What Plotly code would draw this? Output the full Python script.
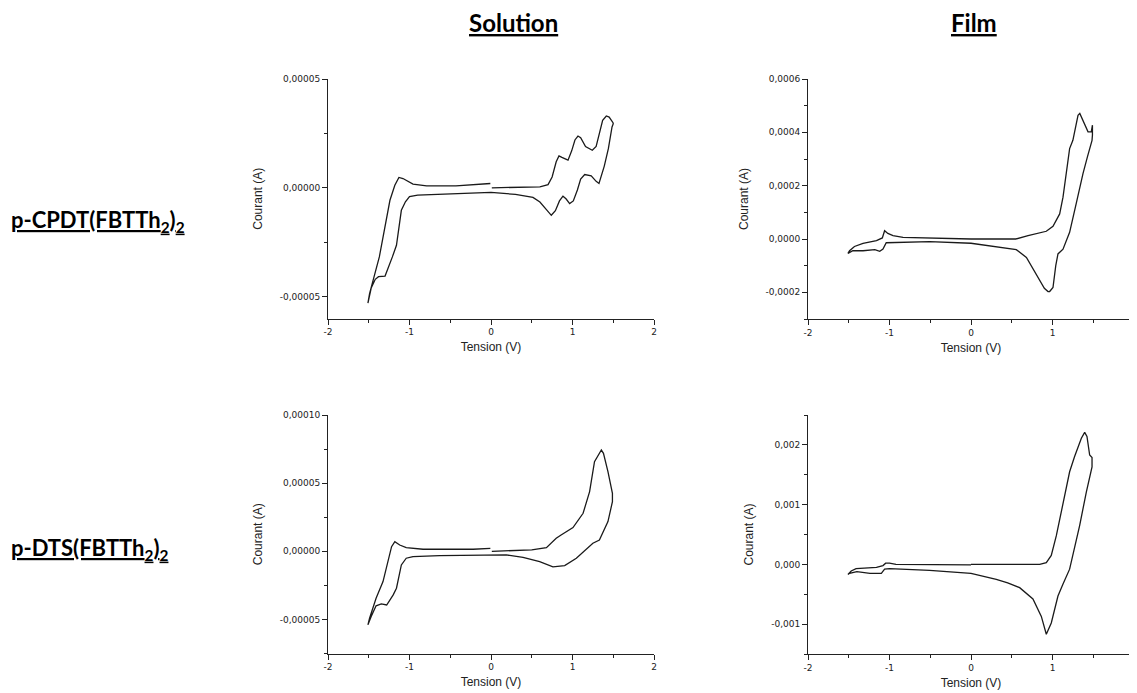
import plotly.graph_objects as go

# ---------------- data ----------------
# Solution, p-CPDT(FBTTh2)2   -- current in units of 1e-5 A
v_sol_cpdt = [0.01, 0.3, 0.6, 0.7, 0.75, 0.8, 0.834, 0.87, 0.945, 0.99, 1.03, 1.067, 1.1, 1.16, 1.243, 1.29, 1.33, 1.37, 1.415, 1.45, 1.497,
              1.5, 1.485, 1.44, 1.39, 1.325, 1.29, 1.23, 1.15, 1.1, 1.06, 1.01, 0.965, 0.92, 0.883, 0.84, 0.79, 0.74, 0.68, 0.6, 0.515, 0.3, 0.0,
              -0.5, -0.9, -1.0, -1.05, -1.1, -1.16, -1.21, -1.25, -1.30, -1.38, -1.42, -1.47, -1.51,
              -1.49, -1.37, -1.24, -1.18, -1.13, -1.08, -0.957, -0.79, -0.43, -0.008]
i_sol_cpdt = [0.0, 0.02, 0.05, 0.15, 0.5, 1.2, 1.47, 1.4, 1.27, 1.7, 2.2, 2.38, 2.3, 1.9, 1.73, 1.9, 2.5, 3.1, 3.30, 3.25, 2.99,
              2.95, 2.8, 1.8, 1.0, 0.2, 0.3, 0.55, 0.61, 0.4, -0.1, -0.6, -0.72, -0.5, -0.38, -0.6, -1.05, -1.26, -1.0, -0.65, -0.44, -0.3, -0.21,
              -0.26, -0.33, -0.4, -0.64, -1.03, -2.64, -3.17, -3.6, -4.05, -4.08, -4.2, -4.6, -5.29,
              -4.86, -3.17, -0.57, 0.12, 0.48, 0.43, 0.17, 0.09, 0.09, 0.2]

# Film, p-CPDT(FBTTh2)2   -- current in units of 1e-4 A
v_film_cpdt = [0.0, 0.3, 0.55, 0.7, 0.924, 1.006, 1.088, 1.129, 1.17, 1.21, 1.25, 1.313, 1.335, 1.36, 1.395, 1.436, 1.476, 1.49,
               1.49, 1.485, 1.43, 1.374, 1.29, 1.25, 1.21, 1.129, 1.067, 1.04, 1.006, 0.965, 0.945, 0.90, 0.80, 0.68, 0.556, 0.31, 0.0,
               -0.507, -1.0, -1.04, -1.08, -1.12, -1.18, -1.325, -1.45, -1.51,
               -1.49, -1.43, -1.325, -1.16, -1.088, -1.06, -1.02, -0.957, -0.834, -0.507, 0.0]
i_film_cpdt = [0.0, 0.0, 0.0, 0.13, 0.29, 0.48, 0.94, 1.57, 2.45, 3.39, 3.70, 4.64, 4.71, 4.55, 4.27, 4.02, 4.02, 4.27,
               3.9, 3.70, 3.1, 2.45, 1.32, 0.75, 0.25, -0.38, -0.56, -1.0, -1.82, -1.97, -1.97, -1.85, -1.32, -0.69, -0.40, -0.29, -0.16,
               -0.10, -0.13, -0.14, -0.38, -0.46, -0.40, -0.44, -0.44, -0.54,
               -0.44, -0.28, -0.16, -0.06, 0.04, 0.31, 0.21, 0.13, 0.06, 0.04, 0.0]

# Solution, p-DTS(FBTTh2)2   -- current in units of 1e-5 A
v_sol_dts = [0.01, 0.3, 0.5, 0.68, 0.80, 0.86, 1.006, 1.13, 1.21, 1.27, 1.354, 1.38, 1.435, 1.49,
             1.49, 1.435, 1.33, 1.25, 1.13, 1.047, 0.904, 0.76, 0.597, 0.393, 0.188, 0.0, -0.63, -0.957, -1.04, -1.1, -1.16, -1.2, -1.28, -1.346, -1.41, -1.47, -1.51,
             -1.49, -1.41, -1.325, -1.22, -1.18, -1.12, -1.04, -0.834, -0.22, -0.008]
i_sol_dts = [0.0, 0.05, 0.1, 0.27, 0.95, 1.2, 1.74, 2.79, 4.38, 6.58, 7.43, 7.19, 5.84, 4.25,
             3.64, 2.18, 0.83, 0.59, -0.02, -0.51, -1.05, -1.15, -0.76, -0.44, -0.27, -0.27, -0.32, -0.39, -0.51, -1.0, -2.71, -3.2, -3.94, -3.86, -4.0, -4.79, -5.4,
             -4.91, -3.45, -2.22, 0.34, 0.71, 0.46, 0.27, 0.15, 0.15, 0.22]

# Film, p-DTS(FBTTh2)2   -- current in units of 1e-3 A
v_film_dts = [0.0, 0.5, 0.843, 0.924, 0.985, 1.047, 1.129, 1.21, 1.27, 1.354, 1.395, 1.423, 1.456, 1.485,
              1.485, 1.415, 1.333, 1.21, 1.129, 1.067, 0.985, 0.924, 0.863, 0.76, 0.597, 0.45, 0.31, 0.0, -0.507, -1.0, -1.06, -1.1, -1.24, -1.4, -1.49, -1.51,
              -1.47, -1.41, -1.16, -1.08, -1.047, -1.0, -0.92, 0.0]
i_film_dts = [0.0, 0.0, 0.0, 0.03, 0.15, 0.48, 1.04, 1.55, 1.80, 2.11, 2.21, 2.14, 1.83, 1.79,
              1.63, 1.21, 0.65, -0.08, -0.33, -0.53, -0.98, -1.17, -0.87, -0.58, -0.39, -0.31, -0.25, -0.15, -0.1, -0.07, -0.08, -0.15, -0.15, -0.12, -0.15, -0.17,
              -0.11, -0.07, -0.05, -0.02, 0.02, 0.02, 0.0, -0.01]

unit_sol = 1e-5
unit_film_cpdt = 1e-4
unit_film_dts = 1e-3

column_titles = ["Solution", "Film"]
row_labels = ["p-CPDT(FBTTh<sub>2</sub>)<sub>2</sub>", "p-DTS(FBTTh<sub>2</sub>)<sub>2</sub>"]

x_tickvals = [-2, -1, 0, 1, 2]
x_ticktext = ["-2", "-1", "0", "1", "2"]

y_tl_vals = [-5e-5, 0.0, 5e-5]
y_tl_text = ["-0,00005", "0,00000", "0,00005"]
y_tr_vals = [-2e-4, 0.0, 2e-4, 4e-4, 6e-4]
y_tr_text = ["-0,0002", "0,0000", "0,0002", "0,0004", "0,0006"]
y_bl_vals = [-5e-5, 0.0, 5e-5, 1e-4]
y_bl_text = ["-0,00005", "0,00000", "0,00005", "0,00010"]
y_br_vals = [-1e-3, 0.0, 1e-3, 2e-3]
y_br_text = ["-0,001", "0,000", "0,001", "0,002"]

# ---------------- figure ----------------
# The page body has an 8px default margin, so the figure is drawn 8px in from
# the window's top-left corner; size it so it ends exactly at the window edge.
OFF = 8
WIN_W, WIN_H = 1137, 693
W, H = WIN_W - OFF, WIN_H - OFF
fig = go.Figure()

panels = [
    ("x", "y", v_sol_cpdt, [v * unit_sol for v in i_sol_cpdt]),
    ("x2", "y2", v_film_cpdt, [v * unit_film_cpdt for v in i_film_cpdt]),
    ("x3", "y3", v_sol_dts, [v * unit_sol for v in i_sol_dts]),
    ("x4", "y4", v_film_dts, [v * unit_film_dts for v in i_film_dts]),
]
for xa, ya, xs, ys in panels:
    fig.add_trace(go.Scatter(x=xs, y=ys, xaxis=xa, yaxis=ya, mode="lines",
                             line=dict(color="#1a1a1a", width=1.3), showlegend=False,
                             hoverinfo="skip"))

def fx(px):
    return (px - OFF) / W

def fy(py):
    return 1 - (py - OFF) / H

def px_x(a, b):
    return [fx(a), fx(b)]

def px_y(top, bottom):
    return [fy(bottom), fy(top)]

tick_font = dict(family="DejaVu Sans, Arial", size=9, color="#222")
title_font = dict(family="Liberation Sans, Arial", size=12, color="#222")

def xaxis_def(domain, anchor):
    return dict(domain=domain, anchor=anchor, range=[-2, 2], tickvals=x_tickvals, ticktext=x_ticktext,
                showline=True, linecolor="#222", linewidth=1, mirror=False, showgrid=False, zeroline=False,
                automargin=False, ticklabeloverflow="allow",
                ticks="outside", ticklen=5, tickwidth=1, tickcolor="#222", tickfont=tick_font,
                minor=dict(ticks="outside", ticklen=3, tickwidth=1, tickcolor="#222", dtick=0.5, tick0=0, showgrid=False),
                title=dict(text="Tension (V)", font=title_font, standoff=6))

def yaxis_def(domain, anchor, rng, vals, text, minor_dtick, standoff):
    return dict(domain=domain, anchor=anchor, range=rng, tickvals=vals, ticktext=text,
                showline=True, linecolor="#222", linewidth=1, mirror=False, showgrid=False, zeroline=False,
                automargin=False, ticklabeloverflow="allow",
                ticks="outside", ticklen=5, tickwidth=1, tickcolor="#222", tickfont=tick_font,
                minor=dict(ticks="outside", ticklen=3, tickwidth=1, tickcolor="#222", dtick=minor_dtick, tick0=0, showgrid=False),
                title=dict(text="Courant (A)", font=title_font, standoff=standoff))

fig.update_layout(
    width=W, height=H,
    margin=dict(l=0, r=0, t=0, b=0, autoexpand=False),
    paper_bgcolor="white", plot_bgcolor="white",
    xaxis=xaxis_def(px_x(328, 654), "y"),
    yaxis=yaxis_def(px_y(79, 318.5), "x", [-6e-5, 5e-5], y_tl_vals, y_tl_text, 2.5e-5, 14),
    xaxis2=xaxis_def(px_x(808, 1134), "y2"),
    yaxis2=yaxis_def(px_y(79, 319), "x2", [-3e-4, 6e-4], y_tr_vals, y_tr_text, 1e-4, 14),
    xaxis3=xaxis_def(px_x(328, 654), "y3"),
    yaxis3=yaxis_def(px_y(415, 653.5), "x3", [-7.5e-5, 1e-4], y_bl_vals, y_bl_text, 2.5e-5, 14),
    xaxis4=xaxis_def(px_x(808, 1134), "y4"),
    yaxis4=yaxis_def(px_y(415, 654), "x4", [-1.5e-3, 2.5e-3], y_br_vals, y_br_text, 5e-4, 14),
)

head_font = dict(family="Lato, Noto Sans", size=24, color="black")
for txt, cx in zip(column_titles, [513, 974]):
    fig.add_annotation(text="<b><u>" + txt + "</u></b>", x=fx(cx), y=fy(23), xref="paper", yref="paper",
                       showarrow=False, xanchor="center", yanchor="middle", font=head_font)

row_font = dict(family="Lato, Noto Sans", size=22, color="black")
for txt, cy in zip(row_labels, [221, 549]):
    fig.add_annotation(text="<b><u>" + txt + "</u></b>", x=fx(9), y=fy(cy), xref="paper", yref="paper",
                       showarrow=False, xanchor="left", yanchor="middle", font=row_font)

fig.write_html("out.html")
